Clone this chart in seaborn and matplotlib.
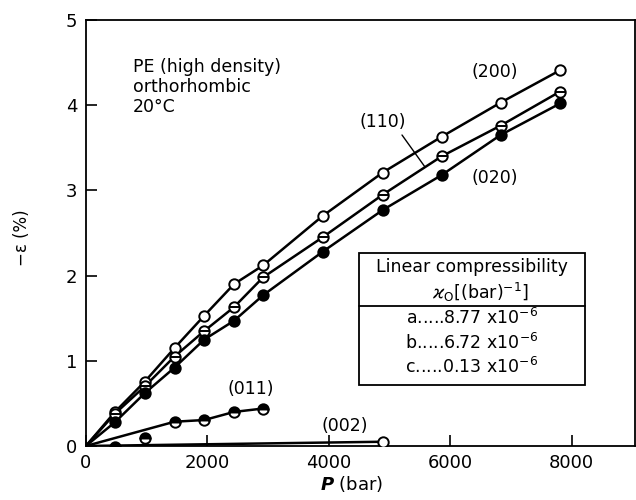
import matplotlib
matplotlib.use("Agg")
import matplotlib.pyplot as plt
import seaborn as sns
import numpy as np

# ---- data ----
P_main = [480, 970, 1460, 1950, 2440, 2920, 3900, 4890, 5860, 6830, 7810]
eps_200 = [0.40, 0.755, 1.15, 1.53, 1.90, 2.12, 2.70, 3.21, 3.63, 4.03, 4.41]
eps_110 = [0.38, 0.70, 1.05, 1.35, 1.63, 1.98, 2.45, 2.95, 3.40, 3.76, 4.16]
eps_020 = [0.28, 0.62, 0.92, 1.25, 1.47, 1.77, 2.28, 2.77, 3.18, 3.65, 4.02]
P_011 = [480, 970, 1460, 1950, 2440, 2920]
eps_011 = [-0.01, 0.09, 0.285, 0.305, 0.40, 0.44]
P_002 = [4890]
eps_002 = [0.05]

x_ticks = [0, 2000, 4000, 6000, 8000]
y_ticks = [0, 1, 2, 3, 4, 5]

sns.set_theme(style="ticks")
plt.rcParams['font.family'] = ['DejaVu Sans']
plt.rcParams.update({'text.color': 'black', 'axes.labelcolor': 'black',
                     'xtick.color': 'black', 'ytick.color': 'black',
                     'axes.edgecolor': 'black'})

fig = plt.figure(figsize=(6.36, 5.0), dpi=100)
ax = fig.add_axes([0.135, 0.108, 0.863, 0.852])

lw = 1.8
ms = 7.5

def curve(px, py):
    sns.lineplot(x=[0] + list(px), y=[0] + list(py), ax=ax, color='black',
                 lw=lw, sort=False, estimator=None)

curve(P_main, eps_200)
curve(P_main, eps_110)
curve(P_main, eps_020)
curve(P_011[2:], eps_011[2:])
curve(P_002, eps_002)

# markers
ax.plot(P_main, eps_200, 'o', ms=ms, mfc='white', mec='black', mew=1.4, ls='none', zorder=5)
ax.plot(P_main, eps_110, 'o', ms=ms, mfc='white', mec='black', mew=1.4, ls='none', zorder=5)
ax.plot(P_main, eps_110, '_', ms=ms, mec='black', mew=1.4, ls='none', zorder=6)
ax.plot(P_main, eps_020, 'o', ms=ms, mfc='black', mec='black', mew=1.4, ls='none', zorder=5)
ax.plot(P_011, eps_011, 'o', ms=ms, fillstyle='top', mfc='black', mfcalt='white',
        mec='black', mew=1.4, ls='none', zorder=5)
ax.plot(P_002, eps_002, 'o', ms=ms, mfc='white', mec='black', mew=1.4, ls='none', zorder=5)

ax.set_xlim(0, 9040)
ax.set_ylim(0, 5)
ax.set_xticks(x_ticks)
ax.set_yticks(y_ticks)
ax.set_xticklabels([str(v) for v in x_ticks], fontsize=13, color='black')
ax.set_yticklabels([str(v) for v in y_ticks], fontsize=13, color='black')
ax.tick_params(direction='in', length=8, width=1.2, pad=6, colors='black')
for s in ax.spines.values():
    s.set_linewidth(1.3)
    s.set_color('black')

ax.set_xlabel(r"$\boldsymbol{P}$ (bar)", fontsize=13, color='black')
ax.xaxis.set_label_coords(0.485, -0.066)
ax.set_ylabel("\u2212\u03b5 (%)", fontsize=12, color='black')
ax.yaxis.set_label_coords(-0.1, 0.49)

# annotations (pixel positions converted via figure coords)
def ftext(px, py, s, **kw):
    fig.text(px / 636, 1 - py / 500, s, color='black', **kw)

ftext(133, 58, "PE (high density)\northorhombic\n20\u00b0C", fontsize=12.5,
      va='top', linespacing=1.15)
ftext(495, 72, "(200)", fontsize=12.5, ha='center', va='center')
ftext(383, 122, "(110)", fontsize=12.5, ha='center', va='center')
ftext(495, 178, "(020)", fontsize=12.5, ha='center', va='center')
ftext(251, 389, "(011)", fontsize=12.5, ha='center', va='center')
ftext(345, 426, "(002)", fontsize=12.5, ha='center', va='center')

# leader line for (110)
fig.add_artist(plt.Line2D([402 / 636, 425 / 636], [1 - 135 / 500, 1 - 167 / 500],
                          color='black', lw=1.0))

# compressibility box
bx0, bx1, by0, by1, bdiv = 359, 585, 253, 385, 306
fig.add_artist(plt.Rectangle((bx0 / 636, 1 - by1 / 500), (bx1 - bx0) / 636,
                             (by1 - by0) / 500, fill=True, facecolor='white',
                             edgecolor='black', lw=1.3, zorder=10))
fig.add_artist(plt.Line2D([bx0 / 636, bx1 / 636], [1 - bdiv / 500, 1 - bdiv / 500],
                          color='black', lw=1.3, zorder=11))
cx = (bx0 + bx1) / 2
ftext(cx, 267, "Linear compressibility", fontsize=12.5, ha='center', va='center', zorder=12)
ftext(cx + 8, 292, r"$\varkappa_{\mathrm{O}}$[(bar)$^{-1}$]", fontsize=12.5, ha='center',
      va='center', zorder=12)
rows = ["a.....8.77 x10$^{-6}$", "b.....6.72 x10$^{-6}$", "c.....0.13 x10$^{-6}$"]
for i, r in enumerate(rows):
    ftext(cx, 318 + i * 24.5, r, fontsize=12.5, ha='center', va='center', zorder=12)

fig.savefig("out.png", dpi=100)
